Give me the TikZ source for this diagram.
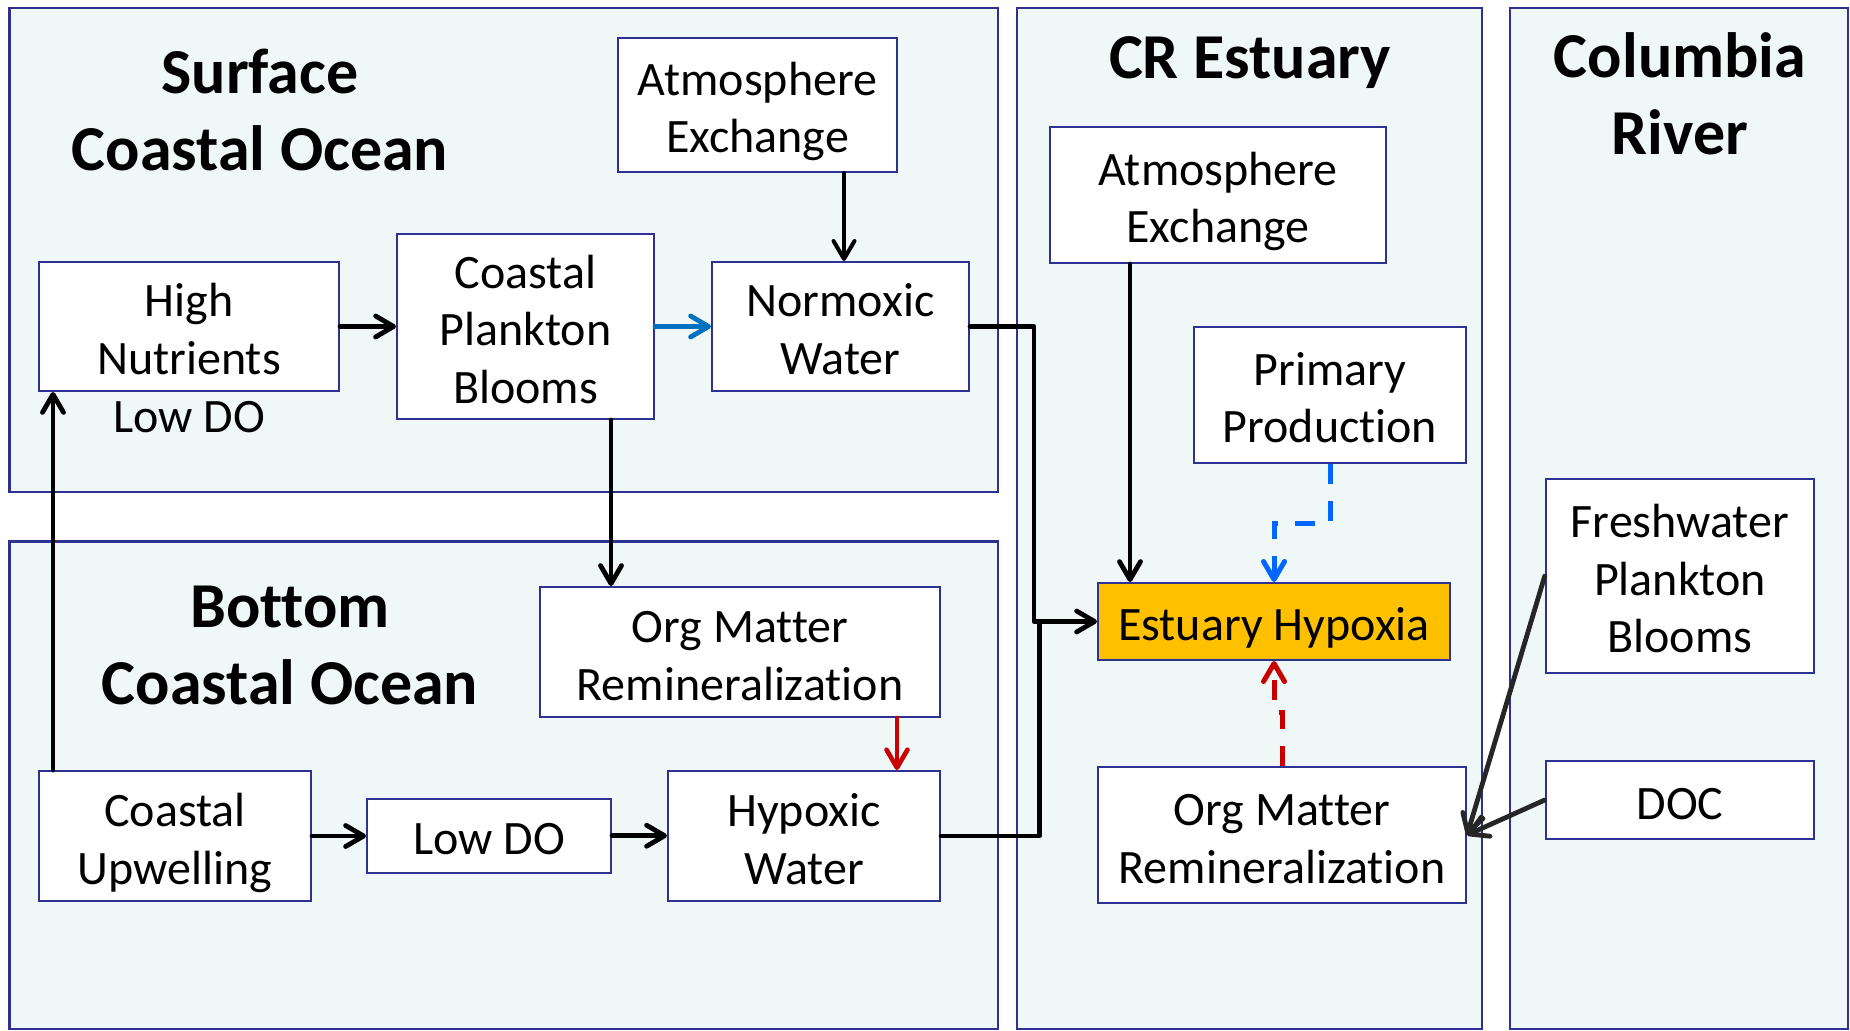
\documentclass[tikz,border=0pt]{standalone}
\usepackage{fontspec}
\setmainfont{Carlito}[Ligatures=NoCommon]
\usetikzlibrary{arrows.meta}
\definecolor{panelfill}{RGB}{240,248,247}
\definecolor{navy}{RGB}{46,49,146}
\definecolor{hypox}{RGB}{255,192,0}
\definecolor{arrblue}{RGB}{0,112,192}
\definecolor{dashblue}{RGB}{0,102,255}
\definecolor{arrred}{RGB}{200,0,0}
\newcommand\bxtop{\rule{0pt}{1.05em}}
\newcommand\bxbot{\rule[-0.25em]{0pt}{0pt}}
\begin{document}
\begin{tikzpicture}[x=0.5pt,y=-0.5pt,
  panel/.style={draw=navy, line width=1.4pt, fill=panelfill},
  box/.style={draw=navy, line width=1pt, fill=white, align=center, inner sep=0pt,
              font=\fontsize{24}{28.8}\selectfont},
  ttl/.style={align=center, inner sep=0pt, font=\fontsize{32}{38.5}\selectfont\bfseries},
  lbl/.style={inner sep=0pt, font=\fontsize{24}{28.8}\selectfont},
  tip/.style={-{Straight Barb[length=9pt,width=10.5pt,round]}},
  conn/.style={line width=2.4pt, black, line cap=round, line join=round},
  thinconn/.style={line width=2pt, black, line cap=round},
  dashconn/.style={line width=2.5pt, dash pattern=on 10pt off 8.5pt},
]
\useasboundingbox (0,0) rectangle (1850,1031);
\fill[white] (0,0) rectangle (1850,1031);

% panels
\draw[panel] (9.5,8) rectangle (998,492);
\draw[panel] (9.5,541.5) rectangle (998,1029);
\draw[panel] (1017,8) rectangle (1482,1029);
\draw[panel] (1510,8) rectangle (1848,1029);

% titles
\node[ttl] (tsurf) at (260,110) {Surface\\Coastal Ocean};
\node[ttl] (tbot) at (290,645) {Bottom\\Coastal Ocean};
\node[ttl] (test) at (1250,63) {CR Estuary};
\node[ttl] (triv) at (1680,94) {Columbia\\River};

% boxes
\node[box, minimum width=139.5pt, minimum height=67pt] (atm1) at (757.5,105) {\bxtop Atmosphere\\Exchange\bxbot};
\node[box, minimum width=150pt, minimum height=64.5pt] (hn) at (189,326.5) {\bxtop High\\Nutrients\bxbot};
\node[lbl] (lowdolbl) at (189,417) {Low DO};
\node[box, minimum width=128.5pt, minimum height=92.5pt] (cpb) at (525.5,326.5) {\bxtop Coastal\\Plankton\\Blooms\bxbot};
\node[box, minimum width=128.5pt, minimum height=64.5pt] (nw) at (840.5,326.5) {\bxtop Normoxic\\Water\bxbot};
\node[box, minimum width=200pt, minimum height=65pt] (omr1) at (740,652) {\bxtop Org Matter\\Remineralization\bxbot};
\node[box, minimum width=136pt, minimum height=65pt] (cu) at (175,836) {\bxtop Coastal\\Upwelling\bxbot};
\node[box, minimum width=122pt, minimum height=36.75pt] (ldo) at (489,835.75) {\bxtop Low DO\bxbot};
\node[box, minimum width=136pt, minimum height=65pt] (hw) at (804,836) {\bxtop Hypoxic\\Water\bxbot};
\node[box, minimum width=168pt, minimum height=68pt] (atm2) at (1218,195) {\bxtop Atmosphere\\Exchange\bxbot};
\node[box, minimum width=136pt, minimum height=68pt] (pp) at (1330,395) {\bxtop Primary\\Production\bxbot};
\node[box, fill=hypox, minimum width=176pt, minimum height=38.5pt] (eh) at (1274,621.5) {\bxtop Estuary Hypoxia\bxbot};
\node[box, minimum width=184pt, minimum height=68pt] (omr2) at (1282,835) {\bxtop Org Matter\\Remineralization\bxbot};
\node[box, minimum width=134.25pt, minimum height=97pt] (fpb) at (1680,576) {\bxtop Freshwater\\Plankton\\Blooms\bxbot};
\node[box, minimum width=134.25pt, minimum height=39pt] (doc) at (1680,800) {\bxtop DOC\bxbot};

\coordinate (j1) at (1034,500);
\coordinate (j2) at (1039.5,621.5);

% surface / bottom connectors
\draw[conn, tip] (hn.east) -- (cpb.west);
\draw[conn, arrblue, tip] (cpb.east) -- (nw.west);
\draw[thinconn, tip] ([xshift=43.25pt]atm1.south) -- ([xshift=1.75pt]nw.north);
\draw[conn, tip] ([xshift=42.75pt]cpb.south) -- ([xshift=42.75pt]cpb.south |- omr1.north);
\draw[conn, line width=2.3pt, arrred, tip] ([xshift=78.5pt]omr1.south) -- ([xshift=78.5pt]omr1.south |- hw.north);
\draw[conn, tip] ([xshift=-61pt]cu.north) -- ([xshift=-61pt]cu.north |- hn.south);
\draw[conn, tip] (cu.east) -- (cu.east -| ldo.west);
\draw[conn, tip] (ldo.east) -- (ldo.east -| hw.west);

% to estuary
\draw[conn, tip] (nw.east) -| (j1) |- (eh.west);
\draw[conn] (hw.east) -| (j2);
\draw[conn, tip] ([xshift=-44pt]atm2.south) -- ([xshift=-44pt]atm2.south |- eh.north);
\draw[dashconn, dashblue, tip] (pp.south) -- ++(0,59) -| (eh.north);
\draw[dashconn, arrred, tip] (omr2.north) -- ++(0,-54) -| (eh.south);

% river
\draw[conn, black!85, tip] (fpb.west) -- (omr2.east);
\draw[conn, black!85, tip] (doc.west) -- (omr2.east);
\end{tikzpicture}
\end{document}
